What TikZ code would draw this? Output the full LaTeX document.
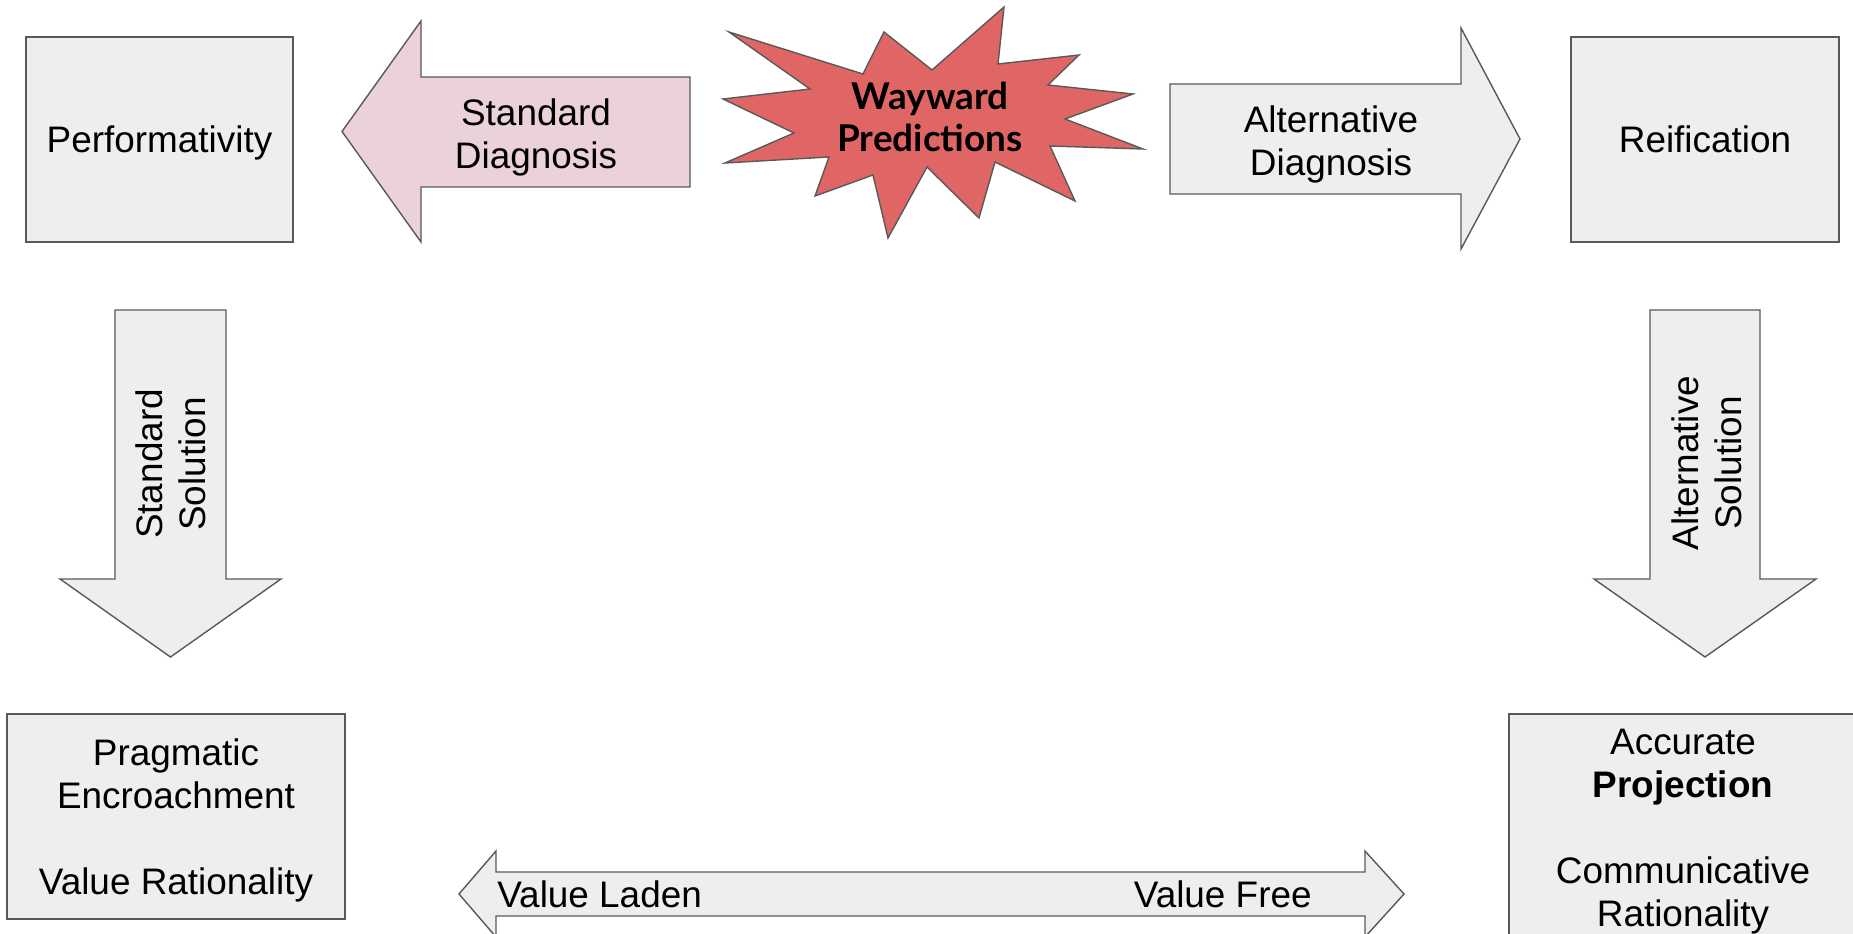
\documentclass[tikz,border=0pt]{standalone}
\usepackage{fontspec}
\setmainfont{Liberation Sans}
\newfontfamily\latofont{Lato}
\usetikzlibrary{positioning}
\definecolor{edgegray}{HTML}{595959}
\definecolor{boxgray}{HTML}{EEEEEE}
\definecolor{pinkfill}{HTML}{EAD1DC}
\definecolor{burstred}{HTML}{E06666}
\tikzset{
	box/.style = {draw=edgegray, fill=boxgray, line width=0.8pt, align=center, inner sep=0pt, text depth=0pt},
	blockarrow/.style = {draw=edgegray, fill=boxgray, line width=0.8pt, line join=miter},
	words/.style = {align=center, inner sep=0pt, text depth=0pt},
}
\begin{document}
\begin{tikzpicture}[x=0.2mm, y=-0.2mm, font=\fontsize{21}{24.5}\selectfont]
		\useasboundingbox (0,0) rectangle (1853,934);
		\clip (0,0) rectangle (1853,934);
		% boxes
		\node[box, minimum width=53.4mm, minimum height=41mm] (perf) at (159.5,139.5) {Performativity};
		\node[box, minimum width=53.6mm, minimum height=41mm] (reif) at (1705,139.5) {Reification};
		\node[box, minimum width=67.6mm, minimum height=41mm] (prag) at (176,816.5) {Pragmatic\\Encroachment\\~\\Value Rationality};
		\node[box, minimum width=69.6mm, minimum height=45.6mm] (accu) at (1683,828) {Accurate\\\textbf{Projection}\\~\\Communicative\\Rationality};
		% star
		\draw[draw=edgegray, fill=burstred, line width=0.8pt] (729,32) -- (863,74) -- (884,32) -- (932,70) -- (1004,7) -- (998,64) -- (1079,55) -- (1048,85) -- (1133,94) -- (1065,119) -- (1143,149) -- (1050,146) -- (1075,201) -- (995,162) -- (979,218) -- (927,167) -- (888,238) -- (873,175) -- (815,196) -- (829,157) -- (725,163) -- (794,133) -- (723,99) -- (810,89) -- cycle;
		\node[words, font=\latofont\bfseries\fontsize{21}{24}\selectfont] (wp) at (930,117) {Wayward\\Predictions};
		% block arrows
		\draw[blockarrow, fill=pinkfill] (342,131.5) -- (421,21) -- (421,77) -- (690,77) -- (690,187) -- (421,187) -- (421,242) -- cycle;
		\node[words] (sd) at (536,134) {Standard\\Diagnosis};
		\draw[blockarrow] (1520,139) -- (1461,28) -- (1461,84) -- (1170,84) -- (1170,194) -- (1461,194) -- (1461,249) -- cycle;
		\node[words] (ad) at (1331,141) {Alternative\\Diagnosis};
		\draw[blockarrow] (170.5,657) -- (60,579) -- (115,579) -- (115,310) -- (226,310) -- (226,579) -- (281,579) -- cycle;
		\node[words, rotate=90] (ss) at (171,464) {Standard\\Solution};
		\draw[blockarrow] (1705,657) -- (1594,579) -- (1650,579) -- (1650,310) -- (1760,310) -- (1760,579) -- (1816,579) -- cycle;
		\node[words, rotate=90] (as) at (1707,463) {Alternative\\Solution};
		\draw[blockarrow] (459,894) -- (496,851) -- (496,872) -- (1365,872) -- (1365,851) -- (1404,894) -- (1365,937) -- (1365,916) -- (496,916) -- (496,937) -- cycle;
		\node[words, anchor=base west] (vl) at (497,907) {Value Laden};
		\node[words, anchor=base east] (vf) at (1312,907) {Value Free};
\end{tikzpicture}
\end{document}
